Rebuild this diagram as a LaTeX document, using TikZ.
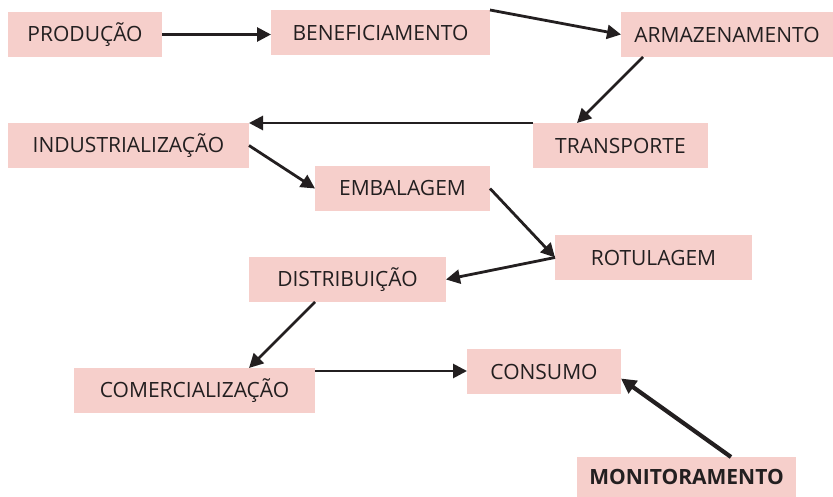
\documentclass[tikz,border=0pt]{standalone}
\usepackage{fontspec}
\setmainfont{Open Sans}
\usetikzlibrary{arrows.meta}
\definecolor{boxpink}{HTML}{F6CFCB}
\definecolor{ink}{HTML}{231F20}
\tikzset{
  stage/.style={fill=boxpink, text=ink, inner sep=0pt, outer sep=0pt,
    font=\fontsize{21}{24}\selectfont, anchor=center},
  flow/.style={draw=ink, line width=2.8pt, -{Triangle[length=14pt,width=14pt]}},
  bigflow/.style={draw=ink, line width=4.2pt, -{Triangle[length=15pt,width=15pt]}}
}
\begin{document}
\begin{tikzpicture}[x=1pt,y=-1pt]
\useasboundingbox (0,0) rectangle (833,497);
\node[stage, minimum width=154pt, minimum height=45pt] (prod) at (85,34.5) {PRODUÇÃO};
\node[stage, minimum width=219pt, minimum height=45pt] (benef) at (380.5,32.5) {BENEFICIAMENTO};
\node[stage, minimum width=212pt, minimum height=45pt] (armaz) at (727,34.5) {ARMAZENAMENTO};
\node[stage, minimum width=175pt, minimum height=45pt] (transp) at (620.5,145.5) {TRANSPORTE};
\node[stage, minimum width=241pt, minimum height=45pt] (indus) at (128.5,145.5) {INDUSTRIALIZAÇÃO};
\node[stage, minimum width=175pt, minimum height=45pt] (embal) at (402.5,188.5) {EMBALAGEM};
\node[stage, minimum width=197pt, minimum height=45pt] (rotul) at (653.5,257.5) {ROTULAGEM};
\node[stage, minimum width=197pt, minimum height=45pt] (dist) at (347.5,279.5) {DISTRIBUIÇÃO};
\node[stage, minimum width=241pt, minimum height=45pt] (comerc) at (194.5,390.5) {COMERCIALIZAÇÃO};
\node[stage, minimum width=154pt, minimum height=45pt] (consumo) at (544,371.5) {CONSUMO};
\node[stage, minimum width=219pt, minimum height=40pt, font=\fontsize{21}{24}\selectfont\bfseries] (monit) at (686.5,477) {MONITORAMENTO};

\draw[flow] (prod.east) -- (prod.east -| benef.west);
\draw[flow] (benef.north east) -- (armaz.west);
\draw[flow] ([xshift=22pt]armaz.south west) -- ([xshift=44pt]transp.north west);
\draw[flow] (transp.north west) -- (indus.north east);
\draw[flow] (indus.east) -- (embal.west);
\draw[flow] (embal.east) -- (rotul.west);
\draw[flow] (rotul.west) -- (dist.east);
\draw[flow] ([xshift=66pt]dist.south west) -- ([xshift=175pt]comerc.north west);
\draw[flow] ([yshift=-3pt]comerc.north east) -- ([yshift=-3pt]comerc.north east -| consumo.west);
\draw[bigflow] ([xshift=154pt]monit.north west) -- ([yshift=-7pt]consumo.east);
\end{tikzpicture}
\end{document}
